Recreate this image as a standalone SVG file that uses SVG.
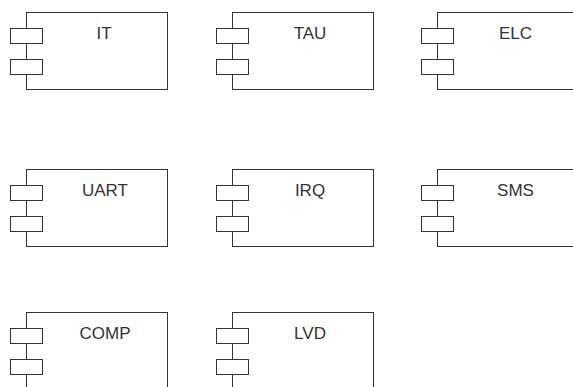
<svg xmlns="http://www.w3.org/2000/svg" width="573" height="387" viewBox="0 0 573 387">
<style>
.body{fill:#fff;stroke:#333;stroke-width:1}
.port{fill:#fff;stroke:#333;stroke-width:1}
.lbl{font-family:"Liberation Sans",Arial,sans-serif;font-size:17px;fill:#333;text-anchor:middle}
</style>
<defs>
<g id="comp">
<rect class="body" x="0" y="0" width="141" height="77"/>
<rect class="port" x="-16" y="16" width="32" height="15"/>
<rect class="port" x="-16" y="47" width="32" height="15"/>
</g>
</defs>
<rect width="573" height="387" fill="#fff"/>
<g id="IT"><use href="#comp" x="26.5" y="12.5"/><text class="lbl" x="104" y="38.5">IT</text></g>
<g id="TAU"><use href="#comp" x="232.5" y="12.5"/><text class="lbl" x="310" y="38.5">TAU</text></g>
<g id="ELC"><use href="#comp" x="437.5" y="12.5"/><text class="lbl" x="515.5" y="38.5">ELC</text></g>
<g id="UART"><use href="#comp" x="26.5" y="169.5"/><text class="lbl" x="105" y="195.5">UART</text></g>
<g id="IRQ"><use href="#comp" x="232.5" y="169.5"/><text class="lbl" x="310" y="195.5">IRQ</text></g>
<g id="SMS"><use href="#comp" x="437.5" y="169.5"/><text class="lbl" x="515.5" y="195.5">SMS</text></g>
<g id="COMP"><use href="#comp" x="26.5" y="312.5"/><text class="lbl" x="105" y="338.5">COMP</text></g>
<g id="LVD"><use href="#comp" x="232.5" y="312.5"/><text class="lbl" x="310" y="338.5">LVD</text></g>
<g id="connectors"></g>
</svg>
